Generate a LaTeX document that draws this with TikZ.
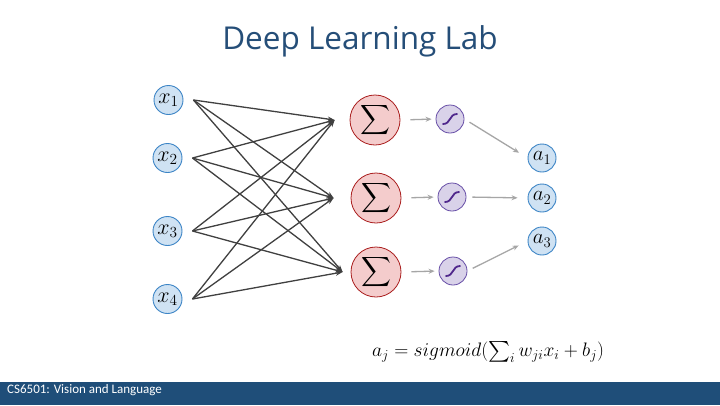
\RequirePackage{fix-cm}
\documentclass[tikz,border=0pt]{standalone}
\usepackage{exscale}
\usepackage{fontspec}
\setmainfont{Open Sans}
\newfontfamily\footfont{Carlito}
\usetikzlibrary{arrows.meta}
\definecolor{titleblue}{RGB}{37,78,120}
\definecolor{barblue}{RGB}{31,78,121}
\definecolor{inpfill}{RGB}{207,226,243}
\definecolor{inpdraw}{RGB}{61,133,198}
\definecolor{sumfill}{RGB}{244,204,204}
\definecolor{sumdraw}{RGB}{170,30,30}
\definecolor{sigfill}{RGB}{217,210,233}
\definecolor{sigdraw}{RGB}{103,78,167}
\definecolor{sigcurve}{RGB}{80,40,140}
\definecolor{wire}{RGB}{64,64,64}
\definecolor{garrow}{RGB}{166,166,166}
\tikzset{
  inp/.style={circle, draw=inpdraw, fill=inpfill, line width=0.9pt, minimum size=29pt, inner sep=0pt, font=\fontsize{22}{22}\selectfont},
  outp/.style={circle, draw=inpdraw, fill=inpfill, line width=0.9pt, minimum size=28pt, inner sep=0pt, font=\fontsize{21}{21}\selectfont},
  sumn/.style={circle, draw=sumdraw, fill=sumfill, line width=0.8pt, minimum size=50pt, inner sep=0pt, font=\fontsize{21}{21}\selectfont},
  sign/.style={circle, draw=sigdraw, fill=sigfill, line width=0.8pt, minimum size=28pt, inner sep=0pt},
  sigline/.style={draw=sigcurve, line width=1.8pt, line cap=round},
  wireln/.style={draw=wire, line width=1.3pt, -{Stealth[length=7pt,width=5pt]}},
  grayln/.style={draw=garrow, line width=1.3pt, -{Stealth[length=6pt,width=5pt]}},
}
\begin{document}
\begin{tikzpicture}[x=1pt,y=-1pt]
\useasboundingbox (0,0) rectangle (720,405);
\fill[white] (0,0) rectangle (720,405);
% footer bar
\fill[barblue] (0,382) rectangle (720,405);
\node[anchor=west, text=white, font=\footfont\fontsize{13}{13}\selectfont, inner sep=0pt] (foot) at (7,390) {CS6501: Vision and Language};
% title
\node[text=titleblue, font=\fontsize{31.5}{31.5}\selectfont, inner sep=0pt] (title) at (360,41) {Deep Learning Lab};
% inputs
\node[inp] (x1) at (168.5,100) {$x_1$};
\node[inp] (x2) at (167.5,158) {$x_2$};
\node[inp] (x3) at (167.5,231) {$x_3$};
\node[inp] (x4) at (167.5,299) {$x_4$};
% sums
\node[sumn] (m1) at (375,120) {$\displaystyle\sum$};
\node[sumn] (m2) at (376,198) {$\displaystyle\sum$};
\node[sumn] (m3) at (376,272) {$\displaystyle\sum$};
% sigmoids
\node[sign] (s1) at (450,119) {};
\node[sign] (s2) at (452,197) {};
\node[sign] (s3) at (453,271) {};
\foreach \s in {s1,s2,s3}{
  \draw[sigline, shift={(\s.center)}] (-7,5) .. controls (1,5) and (-1,-5) .. (7,-5);
}
% outputs
\node[outp] (a1) at (542,158) {$a_1$};
\node[outp] (a2) at (542,198) {$a_2$};
\node[outp] (a3) at (542,241) {$a_3$};
% wire start / end points
\coordinate (p1) at ([xshift=10pt]x1.east);
\coordinate (p2) at ([xshift=10pt]x2.east);
\coordinate (p3) at ([xshift=10pt]x3.east);
\coordinate (p4) at ([xshift=10pt]x4.east);
\coordinate (e1) at ([xshift=-15pt]m1.west);
\coordinate (e2) at ([xshift=-17pt]m2.west);
\coordinate (e3) at ([xshift=-8pt]m3.west);
\foreach \p in {p1,p2,p3,p4}{
  \foreach \e in {e1,e2,e3}{
    \draw[wireln] (\p) -- (\e);
  }
}
% gray arrows
\foreach \i in {1,2,3}{
  \draw[grayln, shorten <=10pt, shorten >=4pt] (m\i.east) -- (s\i.west);
  \draw[grayln, shorten <=6pt, shorten >=10pt] (s\i.east) -- (a\i.west);
}
% formula
\node[font=\fontsize{19.5}{19.5}\selectfont, inner sep=0pt] (formula) at (488,352) {$a_j = sigmoid(\sum_i w_{ji}x_i + b_j)$};
\end{tikzpicture}
\end{document}
